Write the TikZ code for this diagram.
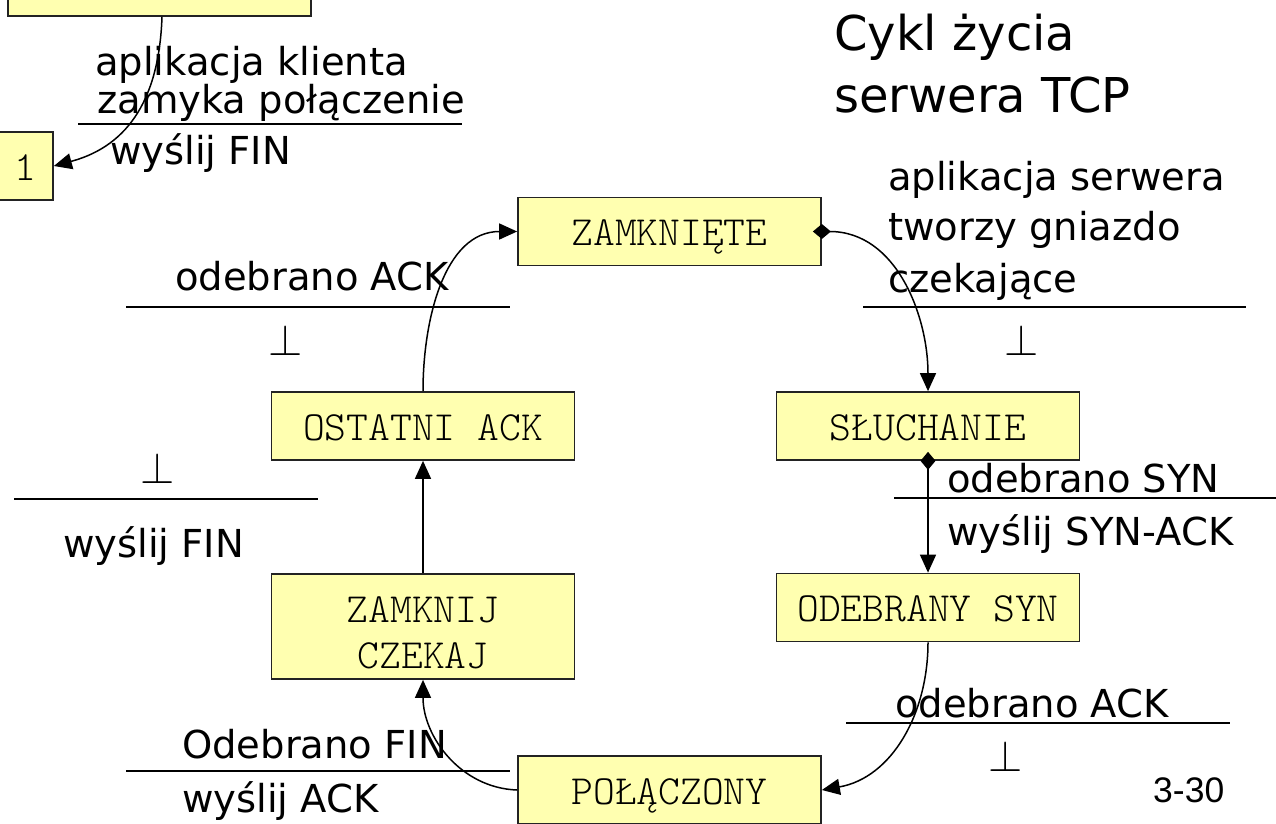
\RequirePackage{fix-cm}
\documentclass[tikz,border=0pt]{standalone}
\usepackage{fontspec}
\setmainfont{DejaVu Sans}
\newfontfamily\monof{lmmonolt10-regular.otf}
\newfontfamily\arialf{Liberation Sans}
\usetikzlibrary{arrows.meta}
\definecolor{boxfill}{RGB}{255,255,176}
\definecolor{boxline}{RGB}{35,35,35}
\begin{document}
\begin{tikzpicture}[x=1pt,y=-1pt,
  state/.style={draw=boxline, fill=boxfill, line width=1.7pt, minimum width=303pt, minimum height=68pt, inner sep=0pt, font=\monof\fontsize{41.5}{46}\selectfont, text height=28pt, text depth=0pt},
  boxtxt/.style={anchor=base, inner sep=0pt, font=\monof\fontsize{41.5}{46}\selectfont},
  lbl/.style={anchor=base west, inner sep=0pt, font=\fontsize{38.5}{46}\selectfont},
  ttl/.style={anchor=base west, inner sep=0pt, font=\fontsize{48}{56}\selectfont},
  rule/.style={line width=1.8pt},
  bot/.style={anchor=base, inner sep=0pt, font=\fontsize{44}{44}\selectfont},
  conn/.style={line width=1.5pt, -{Triangle[length=18pt,width=16pt]}},
  dconn/.style={line width=1.5pt, shorten <=-9pt, {Diamond[length=18pt,width=15pt]}-{Triangle[length=18pt,width=16pt]}},
]
\clip (0,0) rectangle (1276,823);
\fill[white] (0,0) rectangle (1276,823);

% states
\node[state] (tl) at (159.5,-18) {};
\node[state, minimum width=56pt] (one) at (25,166) {1};
\node[state] (zam) at (669.5,231.5) {ZAMKNIĘTE};
\node[state] (slu) at (928,426) {SŁUCHANIE};
\node[state] (syn) at (928,607.5) {ODEBRANY SYN};
\node[state] (ost) at (423,426) {OSTATNI ACK};
\node[state, minimum height=105pt] (zc) at (423,626.5) {};
\node[boxtxt] (zc1) at (423,622) {ZAMKNIJ};
\node[boxtxt] (zc2) at (423,668) {CZEKAJ};
\node[state] (pol) at (669.5,790) {POŁĄCZONY};

% connectors
\draw[conn] ([xshift=2.5pt]tl.south) to[out=-92,in=15,looseness=1.1] (one.east);
\draw[dconn] (zam.east) to[out=0,in=90] (slu.north);
\draw[dconn] (slu.south) -- (syn.north);
\draw[conn] (syn.south) to[out=-90,in=10] (pol.east);
\draw[conn] (pol.west) to[out=178,in=-90] (zc.south);
\draw[conn] (zc.north) -- (ost.south);
\draw[conn] (ost.north) to[out=90,in=180] (zam.west);

% top-left transition
\node[lbl] (t1) at (95,75) {aplikacja klienta};
\node[lbl] (t2) at (97,113) {zamyka połączenie};
\draw[rule] (78,124) -- (462,124);
\node[lbl] (t3) at (110,164) {wyślij FIN};

% title
\node[ttl] (h1) at (834,50) {Cykl życia};
\node[ttl] (h2) at (834,112) {serwera TCP};

% zamkniete -> sluchanie
\node[lbl] (r1) at (888,190) {aplikacja serwera};
\node[lbl] (r2) at (888,240) {tworzy gniazdo};
\node[lbl] (r3) at (888,292) {czekające};
\draw[rule] (863,307) -- (1246,307);
\node[bot] (p1) at (1022,355) {$\perp$};

% ostatni -> zamkniete
\node[lbl] (l1) at (175,290) {odebrano ACK};
\draw[rule] (126,307) -- (510,307);
\node[bot] (p2) at (286,355) {$\perp$};

% zamknij czekaj -> ostatni
\node[bot] (p3) at (158,483) {$\perp$};
\draw[rule] (14,499) -- (318,499);
\node[lbl] (m1) at (63,557) {wyślij FIN};

% sluchanie -> odebrany syn
\node[lbl] (s1) at (947,492) {odebrano SYN};
\draw[rule] (894,498) -- (1276,498);
\node[lbl] (s2) at (947,545) {wyślij SYN-ACK};

% odebrany syn -> polaczony
\node[lbl] (a1) at (895,717) {odebrano ACK};
\draw[rule] (846,723) -- (1230,723);
\node[bot] (p4) at (1006,771) {$\perp$};

% polaczony -> zamknij czekaj
\node[lbl] (f1) at (182,758) {Odebrano FIN};
\draw[rule] (126,771) -- (510,771);
\node[lbl] (f2) at (182,812) {wyślij ACK};

% page number
\node[anchor=base west, inner sep=0pt, font=\arialf\fontsize{35.5}{40}\selectfont] (pg) at (1153,802) {3-30};
\end{tikzpicture}
\end{document}
